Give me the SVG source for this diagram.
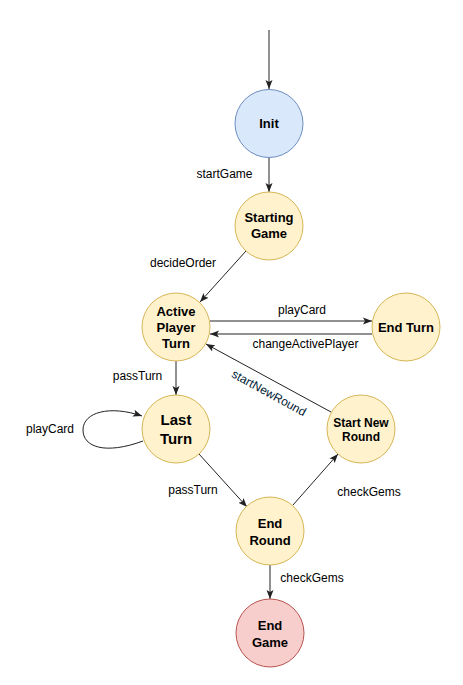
<svg xmlns="http://www.w3.org/2000/svg" width="463" height="685" viewBox="0 0 463 685">
<style>
.y{fill:#fff2cc;stroke:#d6b656;stroke-width:1}
.b{fill:#dae8fc;stroke:#6c8ebf;stroke-width:1}
.r{fill:#f8cecc;stroke:#b85450;stroke-width:1}
.n{font-family:"Liberation Sans",Arial,sans-serif;font-weight:bold;font-size:13px;fill:#000;text-anchor:middle}
.l{font-family:"Liberation Sans",Arial,sans-serif;font-size:12px;fill:#000;text-anchor:middle}
.e{fill:none;stroke:#222;stroke-width:1;marker-end:url(#a)}
</style>
<defs>
<marker id="a" markerUnits="userSpaceOnUse" markerWidth="10" markerHeight="8" refX="9" refY="4" orient="auto">
<path d="M0,0.5 L9,4 L0,7.5 L2,4 z" fill="#222"/>
</marker>
</defs>
<g id="connectors">
<line class="e" x1="269" y1="30" x2="269" y2="89"/>
<line class="e" x1="269" y1="157" x2="269" y2="192"/>
<line class="e" x1="246" y1="251" x2="200" y2="302"/>
<line class="e" x1="210" y1="321" x2="372" y2="321"/>
<line class="e" x1="372" y1="334" x2="210" y2="334"/>
<line class="e" x1="176" y1="361" x2="176" y2="395"/>
<line class="e" x1="331" y1="412" x2="206" y2="344"/>
<path class="e" d="M143,441 C105,455 83,447 83,430 C83,412 110,405 142,416"/>
<line class="e" x1="199" y1="454" x2="247" y2="507"/>
<line class="e" x1="293" y1="505" x2="338" y2="454"/>
<line class="e" x1="270" y1="565" x2="270" y2="599"/>
<text class="l" x="224.5" y="178">startGame</text>
<text class="l" x="183" y="267">decideOrder</text>
<text class="l" x="302" y="314">playCard</text>
<text class="l" x="305.5" y="348">changeActivePlayer</text>
<text class="l" x="137.5" y="380">passTurn</text>
<text class="l" x="0" y="4" transform="translate(269,393) rotate(28.9)" style="fill:#001a33">startNewRound</text>
<text class="l" x="50" y="433">playCard</text>
<text class="l" x="193" y="494">passTurn</text>
<text class="l" x="369" y="496">checkGems</text>
<text class="l" x="312" y="582">checkGems</text>
</g>
<g id="init"><circle class="b" cx="269" cy="123.5" r="34"/><text class="n" x="269" y="128">Init</text></g>
<g id="starting-game"><circle class="y" cx="269" cy="226" r="34"/><text class="n" x="269" y="222">Starting</text><text class="n" x="269" y="238">Game</text></g>
<g id="active-player-turn"><circle class="y" cx="176" cy="327" r="34"/><text class="n" x="176" y="316">Active</text><text class="n" x="176" y="332">Player</text><text class="n" x="176" y="348">Turn</text></g>
<g id="end-turn"><circle class="y" cx="406" cy="327" r="34"/><text class="n" x="406" y="332">End Turn</text></g>
<g id="last-turn"><circle class="y" cx="176" cy="429" r="34"/><text class="n" x="176" y="425" style="font-size:15px">Last</text><text class="n" x="176" y="444" style="font-size:15px">Turn</text></g>
<g id="start-new-round"><circle class="y" cx="361" cy="429" r="34"/><text class="n" x="361" y="427" style="font-size:12px;font-weight:600">Start New</text><text class="n" x="361" y="441" style="font-size:12px;font-weight:600">Round</text></g>
<g id="end-round"><circle class="y" cx="270" cy="531" r="34"/><text class="n" x="270" y="528">End</text><text class="n" x="270" y="545">Round</text></g>
<g id="end-game"><circle class="r" cx="270" cy="633" r="34"/><text class="n" x="270" y="630">End</text><text class="n" x="270" y="647">Game</text></g>
</svg>
